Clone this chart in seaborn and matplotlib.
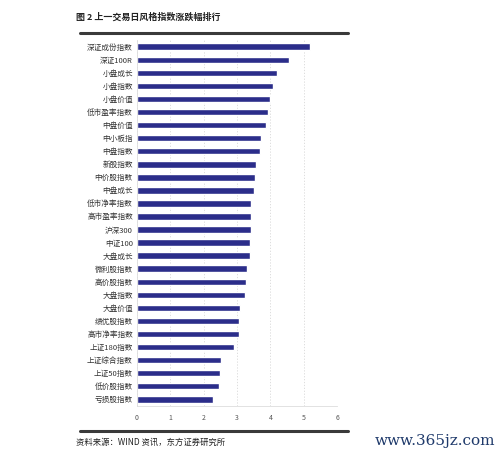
import matplotlib
matplotlib.use("Agg")
import matplotlib.pyplot as plt
import seaborn as sns
from matplotlib.lines import Line2D

# =============================
# DATOS
# =============================
indices = [
    "深证成份指数", "深证100R", "小盘成长", "小盘指数", "小盘价值",
    "低市盈率指数", "中盘价值", "中小板指", "中盘指数", "新股指数",
    "中价股指数", "中盘成长", "低市净率指数", "高市盈率指数", "沪深300",
    "中证100", "大盘成长", "微利股指数", "高价股指数", "大盘指数",
    "大盘价值", "绩优股指数", "高市净率指数", "上证180指数", "上证综合指数",
    "上证50指数", "低价股指数", "亏损股指数",
]
cambios = [
    5.20, 4.55, 4.20, 4.09, 3.98,
    3.93, 3.87, 3.72, 3.68, 3.58,
    3.55, 3.50, 3.43, 3.43, 3.42,
    3.40, 3.39, 3.31, 3.28, 3.25,
    3.10, 3.07, 3.07, 2.90, 2.52,
    2.49, 2.46, 2.29,
]
xticks = [0, 1, 2, 3, 4, 5, 6]

TITULO = "图 2 上一交易日风格指数涨跌幅排行"
FUENTE = "资料来源：WIND 资讯，东方证券研究所"
MARCA = "www.365jz.com"

# =============================
# GRAFICADO
# =============================
sns.set_style("white")
plt.rcParams["font.family"] = ["Noto Sans CJK SC", "DejaVu Sans"]

fig = plt.figure(figsize=(5, 4.57), dpi=100)
ax = fig.add_axes([0.274, 0.112, 0.4, 0.8])

sns.barplot(x=cambios, y=indices, orient="h", color="#2B2D8A",
            width=0.5, saturation=1, ax=ax)

ax.set_xlim(0, 6)
ax.set_xticks(xticks)
ax.set_xticklabels([str(t) for t in xticks], fontsize=5, color="#555555")
ax.tick_params(axis="y", labelsize=5.5, length=0, pad=3, labelcolor="#333333")
ax.tick_params(axis="x", length=0, pad=6)
ax.set_xlabel("")
ax.set_ylabel("")

ax.grid(axis="x", linestyle=(0, (1.5, 2)), color="#D8D8D8", linewidth=0.6)
ax.set_axisbelow(True)
for lado in ["top", "right"]:
    ax.spines[lado].set_visible(False)
for lado in ["left", "bottom"]:
    ax.spines[lado].set_color("#DDDDDD")
    ax.spines[lado].set_linewidth(0.6)

# titulo y lineas
fig.text(0.152, 0.963, TITULO, fontsize=6.5, fontweight="bold",
         ha="left", va="center", color="#222222")
fig.add_artist(Line2D([0.16, 0.696], [0.928, 0.928], color="#3A3A3A", linewidth=2.2))
fig.add_artist(Line2D([0.16, 0.696], [0.057, 0.057], color="#3A3A3A", linewidth=2.2))

fig.text(0.152, 0.031, FUENTE, fontsize=6, ha="left", va="center", color="#222222")
fig.text(0.99, 0.036, MARCA, fontsize=11, ha="right", va="center",
         color="#1F3A6B", family="DejaVu Serif")

fig.savefig("out.png", dpi=100)
